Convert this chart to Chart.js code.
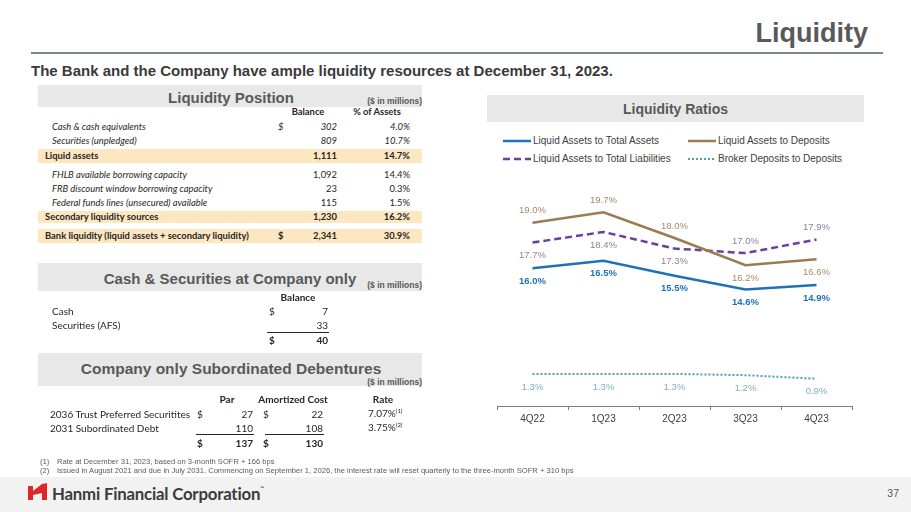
<!DOCTYPE html>
<html>
<head>
<meta charset="utf-8">
<script src="https://cdn.jsdelivr.net/npm/chart.js@4.4.1/dist/chart.umd.min.js"></script>
<style>
  html, body { margin: 0; padding: 0; }
  body { width: 911px; height: 512px; position: relative; overflow: hidden; background: #fff;
         font-family: "Liberation Sans", Arial, sans-serif; color: #262626; }
  .abs { position: absolute; }
  .t { position: absolute; white-space: nowrap; line-height: 1; transform: translateY(-50%); }
  .tbl { font-family: Lato, "Open Sans", sans-serif; font-size: 9.4px; color: #262626; }
  .tbl2 { font-family: Lato, "Open Sans", sans-serif; font-size: 10px; color: #262626; }
  .i { font-style: italic; }
  .b { font-weight: bold; }
  .band { position: absolute; background: #e8e8e8; }
  .hl { position: absolute; background: #fce7c0; left: 38px; width: 384px; }
  .hd { font-weight: bold; color: #595959; }
  .mil { font-size: 8.5px; font-weight: bold; color: #595959; }
  .rule { position: absolute; height: 1px; background: #262626; }
  #legend { position: absolute; left: 503px; top: 135px; width: 360px; font-size: 10px; color: #404040; }
  #legend .item { position: absolute; display: flex; align-items: center; white-space: nowrap; }
  #legend svg { margin-right: 2px; }
  .fn { font-size: 7.6px; color: #595959; }
</style>
</head>
<body>
<!-- title area -->
<div class="t b" style="right:43px; top:33px; font-size:27px; color:#595959;">Liquidity</div>
<div class="abs" style="left:31px; top:52px; width:852px; height:2px; background:#7f8485;"></div>
<div class="t b" style="left:31px; top:70px; font-size:15px; color:#3a3a3a;">The Bank and the Company have ample liquidity resources at December 31, 2023.</div>

<!-- left panel bands -->
<div class="band" style="left:38px; top:85px; width:384px; height:22px;"></div>
<div class="band" style="left:38px; top:263px; width:384px; height:28px;"></div>
<div class="band" style="left:38px; top:353px; width:384px; height:33px;"></div>
<div class="hl" style="top:149px; height:14px;"></div>
<div class="hl" style="top:211px; height:12px;"></div>
<div class="hl" style="top:229px; height:14px;"></div>

<!-- right panel band -->
<div class="band" style="left:487px; top:95px; width:377px; height:27px;"></div>
<div class="t hd" style="left:487px; width:377px; text-align:center; top:109px; font-size:14px;">Liquidity Ratios</div>

<div id="legend"></div>
<div class="abs" style="left:487px; top:175px; width:377px; height:250px;"><canvas id="ratiosChart"></canvas></div>

<div id="tables"></div>

<!-- footer -->
<div class="abs" style="left:0; top:477px; width:911px; height:35px; background:#f2f2f2;"></div>
<svg class="abs" style="left:27px; top:482px;" width="22" height="19" viewBox="0 0 22 19">
  <polygon points="1,4 6,4 6,9 15,2 20,1 20,18 15,18 15,11 6,13 6,18 1,18" fill="#e0262b"/>
</svg>
<div class="t b" style="left:52px; top:494px; font-family:Lato, sans-serif; font-size:16.8px; color:#3b3b3b; letter-spacing:-0.2px;">Hanmi Financial Corporation<span style="font-size:5px; vertical-align:top;">™</span></div>
<div class="t" style="right:12px; top:493px; font-size:10.5px; color:#595959;">37</div>

<script>
// Liquidity ratios (%)
const quarters = ['4Q22', '1Q23', '2Q23', '3Q23', '4Q23'];
const liqAssetsToTotalAssets = [16.0, 16.5, 15.5, 14.6, 14.9];
const liqAssetsToDeposits = [19.0, 19.7, 18.0, 16.2, 16.6];
const liqAssetsToTotalLiab = [17.7, 18.4, 17.3, 17.0, 17.9];
const brokerToDeposits = [1.3, 1.3, 1.3, 1.2, 0.9];

// petite fonction pour poser du texte
function put(html, x, y, cls, anchor) {
    const d = document.createElement('div');
    d.className = 't ' + (cls || '');
    d.innerHTML = html;
    if (anchor === 'right') d.style.right = (911 - x) + 'px';
    else if (anchor === 'center') { d.style.left = (x - 250) + 'px'; d.style.width = '500px'; d.style.textAlign = 'center'; }
    else d.style.left = x + 'px';
    d.style.top = y + 'px';
    document.getElementById('tables').appendChild(d);
    return d;
}
function line(x1, x2, y) {
    const d = document.createElement('div');
    d.className = 'rule';
    d.style.left = x1 + 'px'; d.style.width = (x2 - x1) + 'px'; d.style.top = y + 'px';
    document.getElementById('tables').appendChild(d);
}

// Liquidity Position
put('Liquidity Position', 231, 97, 'hd', 'center').style.fontSize = '15px';
put('($ in millions)', 422, 101, 'mil', 'right');
put('Balance', 308, 112, 'tbl b', 'center');
put('% of Assets', 377, 112, 'tbl b', 'center');
const posRows = [
    ['Cash &amp; cash equivalents', '$', '302', '4.0%', 127, 'i', 'i', 52],
    ['Securities (unpledged)', '', '809', '10.7%', 141, 'i', 'i', 52],
    ['Liquid assets', '', '1,111', '14.7%', 156, 'b', 'b', 45],
    ['FHLB available borrowing capacity', '', '1,092', '14.4%', 175, 'i', '', 52],
    ['FRB discount window borrowing capacity', '', '23', '0.3%', 189, 'i', '', 52],
    ['Federal funds lines (unsecured) available', '', '115', '1.5%', 203, 'i', '', 52],
    ['Secondary liquidity sources', '', '1,230', '16.2%', 217, 'b', 'b', 45],
    ['Bank liquidity (liquid assets + secondary liquidity)', '$', '2,341', '30.9%', 236, 'b', 'b', 45]
];
posRows.forEach(r => {
    put(r[0], r[7], r[4], 'tbl ' + r[5]);
    if (r[1]) put(r[1], 278, r[4], 'tbl ' + r[6]);
    put(r[2], 337, r[4], 'tbl ' + r[6], 'right');
    put(r[3], 410, r[4], 'tbl ' + r[6], 'right');
});

// Cash & Securities at Company only
put('Cash &amp; Securities at Company only', 230, 278, 'hd', 'center').style.fontSize = '15px';
put('($ in millions)', 422, 285, 'mil', 'right');
put('Balance', 298, 297, 'tbl2 b', 'center');
put('Cash', 52, 311, 'tbl2');
put('$', 269, 311, 'tbl2');
put('7', 328, 311, 'tbl2', 'right');
put('Securities (AFS)', 52, 325, 'tbl2');
put('33', 328, 325, 'tbl2', 'right');
line(267, 329, 332);
put('$', 269, 340, 'tbl2 b');
put('40', 328, 340, 'tbl2 b', 'right');

// Company only Subordinated Debentures
put('Company only Subordinated Debentures', 231, 369, 'hd', 'center').style.fontSize = '15.5px';
put('($ in millions)', 422, 382, 'mil', 'right');
put('Par', 227, 399, 'tbl2 b', 'center');
put('Amortized Cost', 293, 399, 'tbl2 b', 'center');
put('Rate', 383, 399, 'tbl2 b', 'center');
put('2036 Trust Preferred Securitites', 50, 414, 'tbl2');
put('$', 197, 414, 'tbl2');
put('27', 253, 414, 'tbl2', 'right');
put('$', 263, 414, 'tbl2');
put('22', 323, 414, 'tbl2', 'right');
put('7.07%<sup style="font-size:6px;">(1)</sup>', 368, 413, 'tbl2');
put('2031 Subordinated Debt', 50, 428, 'tbl2');
put('110', 253, 428, 'tbl2', 'right');
put('108', 323, 428, 'tbl2', 'right');
put('3.75%<sup style="font-size:6px;">(2)</sup>', 368, 427, 'tbl2');
line(196, 254, 434);
line(265, 324, 434);
put('$', 197, 443, 'tbl2 b');
put('137', 253, 443, 'tbl2 b', 'right');
put('$', 263, 443, 'tbl2 b');
put('130', 323, 443, 'tbl2 b', 'right');

// notes
put('(1)', 40, 462, 'fn');
put('Rate at December 31, 2023, based on 3-month SOFR + 166 bps', 57, 462, 'fn');
put('(2)', 40, 471, 'fn');
put('Issued in August 2021 and due in July 2031. Commencing on September 1, 2026, the interest rate will reset quarterly to the three-month SOFR + 310 bps', 57, 471, 'fn');

// Étiquettes de valeurs
const pctLabels = {
    id: 'pctLabels',
    afterDatasetsDraw(chart) {
        const ctx = chart.ctx;
        chart.data.datasets.forEach((ds, i) => {
            const meta = chart.getDatasetMeta(i);
            ctx.save();
            ctx.font = (ds.lblBold ? 'bold ' : '') + '9.5px "Liberation Sans", Arial, sans-serif';
            ctx.fillStyle = ds.lblColor;
            ctx.textAlign = 'center';
            ctx.textBaseline = 'middle';
            meta.data.forEach((pt, j) => {
                const dy = ds.lblPos[j] === 'up' ? -12 : 13;
                ctx.fillText(ds.data[j].toFixed(1) + '%', pt.x, pt.y + dy);
            });
            ctx.restore();
        });
    }
};

// Graphique des ratios
const ratiosCtx = document.getElementById('ratiosChart').getContext('2d');
const ratiosChart = new Chart(ratiosCtx, {
    type: 'line',
    data: {
        labels: quarters,
        datasets: [{
            label: 'Liquid Assets to Total Assets',
            data: liqAssetsToTotalAssets,
            borderColor: '#1f72b8',
            borderWidth: 2.5,
            yAxisID: 'y',
            lblColor: '#1f72b8', lblBold: true,
            lblPos: ['down', 'down', 'down', 'down', 'down'],
            legendCol: 0, legendRow: 0
        }, {
            label: 'Liquid Assets to Deposits',
            data: liqAssetsToDeposits,
            borderColor: '#9c7b50',
            borderWidth: 2.5,
            yAxisID: 'y',
            lblColor: '#a38b6c',
            lblPos: ['up', 'up', 'up', 'down', 'down'],
            legendCol: 1, legendRow: 0
        }, {
            label: 'Liquid Assets to Total Liabilities',
            data: liqAssetsToTotalLiab,
            borderColor: '#6b3f9c',
            borderWidth: 2.5,
            borderDash: [7, 4],
            yAxisID: 'y',
            lblColor: '#8d80a0',
            lblPos: ['down', 'down', 'down', 'up', 'up'],
            legendCol: 0, legendRow: 1
        }, {
            label: 'Broker Deposits to Deposits',
            data: brokerToDeposits,
            borderColor: '#4e9fb4',
            borderWidth: 2,
            borderDash: [2, 2],
            yAxisID: 'y2',
            lblColor: '#7fb1bf',
            lblPos: ['down', 'down', 'down', 'down', 'down'],
            legendCol: 1, legendRow: 1
        }]
    },
    options: {
        responsive: true,
        maintainAspectRatio: false,
        animation: false,
        elements: { point: { radius: 0 }, line: { tension: 0 } },
        layout: { padding: { left: 10, right: 12, top: 10, bottom: 0 } },
        scales: {
            x: {
                offset: true,
                grid: { display: true, drawOnChartArea: false, drawTicks: true, tickLength: 4, color: '#7f7f7f', offset: true },
                border: { display: true, color: '#7f7f7f', width: 1 },
                ticks: { color: '#404040', font: { size: 10, family: '"Liberation Sans", Arial' }, padding: 3 },
                afterFit(s) { s.height = 19; }
            },
            y: { display: false, min: 6.9, max: 21.5 },
            y2: { display: false, min: -1.37, max: 17.05 }
        },
        plugins: {
            legend: { display: false },
            tooltip: { enabled: false }
        }
    },
    plugins: [pctLabels]
});

// Légende HTML à deux colonnes
const legendBox = document.getElementById('legend');
ratiosChart.data.datasets.forEach(ds => {
    const item = document.createElement('div');
    item.className = 'item';
    item.style.left = (ds.legendCol * 185) + 'px';
    item.style.top = (ds.legendRow * 18) + 'px';
    const dash = ds.borderDash ? ds.borderDash.join(',') : 'none';
    item.innerHTML = '<svg width="28" height="6"><line x1="0" y1="3" x2="28" y2="3" stroke="' + ds.borderColor +
        '" stroke-width="' + ds.borderWidth + '" stroke-dasharray="' + dash + '"/></svg><span>' + ds.label + '</span>';
    legendBox.appendChild(item);
});
</script>
</body>
</html>
